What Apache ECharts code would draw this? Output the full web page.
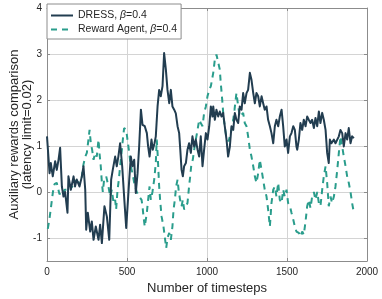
<!DOCTYPE html>
<html>
<head>
<meta charset="utf-8">
<script src="https://cdn.jsdelivr.net/npm/echarts@6/dist/echarts.min.js"></script>
<style>html,body{margin:0;padding:0;background:#fff}#c{width:382px;height:299px}</style>
</head>
<body>
<div id="c"></div>
<script>
const xTicks = [0, 500, 1000, 1500, 2000];
const yTicks = [-1, 0, 1, 2, 3, 4];

const dressSteps = [
  0,16,24,36,51,61,72,82,93,103,
  113,128,134,149,166,175,186,203,218,228,
  239,245,255,270,280,291,305,322,332,343,
  359,374,389,401,411,426,436,446,457,470,
  482,495,503,514,524,534,545,555,566,576,
  587,597,611,624,632,641,653,661,672,680,
  691,701,711,722,732,743,753,764,774,784,
  795,805,816,826,833,841,849,857,868,878,
  888,899,909,920,930,941,951,961,972,982,
  993,1003,1014,1024,1034,1039,1049,1059,1070,1080,
  1091,1101,1111,1122,1132,1143,1153,1164,1174,1184,
  1195,1205,1216,1226,1236,1247,1257,1268,1278,1289,
  1299,1309,1320,1330,1341,1351,1361,1372,1382,1393,
  1403,1414,1424,1434,1445,1455,1466,1476,1486,1497,
  1507,1518,1528,1539,1549,1559,1564,1574,1584,1595,
  1605,1616,1626,1636,1647,1657,1668,1678,1689,1699,
  1709,1720,1730,1741,1751,1761,1768,1778,1793,1803,
  1814,1824,1834,1845,1855,1866,1876,1886,1897,1907,
  1918
];
const dressValues = [
  1.21,0.41,0.63,0.34,0.67,0.48,0.70,0.96,0.12,-0.10,
  0.00,-0.45,0.34,0.05,0.34,0.12,0.27,0.12,0.34,0.56,
  0.05,-0.82,-0.45,-0.86,-0.64,-1.04,-0.75,-1.04,-0.71,-1.11,
  -0.31,-0.53,-1.04,0.27,0.48,0.77,0.56,0.77,1.06,0.56,
  -0.10,-0.78,-0.75,0.27,0.77,0.56,0.70,-0.02,0.41,0.99,
  1.79,1.46,1.43,1.28,0.99,0.77,1.14,0.92,1.06,1.21,
  1.86,2.22,2.08,2.30,3.02,2.66,2.22,1.93,2.22,1.86,
  1.79,1.71,1.43,1.28,0.92,0.48,0.34,0.56,0.63,0.92,
  1.06,0.85,1.21,0.99,1.14,0.92,0.77,1.21,0.56,0.92,
  1.28,1.14,1.43,1.86,1.64,1.86,1.57,1.79,1.64,1.75,
  1.64,1.72,1.43,1.14,0.77,0.99,1.43,1.35,1.72,1.57,
  1.50,1.86,1.79,2.15,1.93,2.15,2.22,2.59,2.44,2.15,
  1.93,2.15,2.08,1.86,2.08,1.93,1.79,1.86,1.57,1.43,
  1.28,1.06,1.43,1.57,1.43,1.64,1.79,1.43,0.99,1.14,
  0.85,1.21,1.28,1.43,1.35,0.99,0.92,1.14,1.50,1.35,
  1.57,1.43,1.64,1.57,1.50,1.57,1.39,1.61,1.43,1.75,
  1.50,1.72,1.57,1.35,0.85,0.63,1.14,1.06,1.14,1.06,
  1.10,1.21,1.35,1.28,0.99,1.28,1.14,1.39,1.06,1.21,
  1.17
];

const rewardSteps = [
  5,16,26,37,47,61,78,90,99,110,
  125,140,155,170,182,198,214,228,239,249,
  259,266,274,282,291,301,311,322,328,336,
  343,349,357,370,384,395,405,416,426,432,
  441,449,457,468,474,482,495,503,514,524,
  534,545,561,576,591,597,603,611,624,632,
  641,649,659,670,680,686,691,695,701,707,
  716,728,736,745,753,764,774,784,791,799,
  807,816,824,832,841,849,857,868,878,888,
  895,903,911,920,930,941,951,961,972,982,
  993,1003,1014,1024,1039,1049,1059,1070,1080,1086,
  1095,1103,1111,1120,1135,1153,1164,1172,1184,1195,
  1205,1226,1236,1247,1257,1268,1278,1289,1299,1309,
  1320,1330,1341,1351,1361,1372,1382,1393,1403,1414,
  1424,1434,1445,1455,1466,1476,1486,1497,1507,1518,
  1528,1539,1549,1559,1564,1574,1584,1595,1605,1616,
  1626,1636,1647,1657,1668,1678,1689,1699,1709,1720,
  1730,1741,1751,1761,1772,1782,1793,1803,1814,1824,
  1834,1845,1855,1866,1876,1886,1897,1907,1918
];
const rewardValues = [
  -0.80,-0.57,-0.30,0.00,0.17,0.20,-0.05,0.00,-0.05,0.05,
  0.05,0.15,0.10,0.20,0.25,0.20,0.25,0.60,0.77,0.85,
  1.14,1.35,1.06,0.92,0.70,0.85,0.77,1.14,0.85,0.56,
  0.20,0.00,0.27,0.34,0.12,-0.10,0.05,-0.24,-0.17,-0.38,
  0.05,0.27,0.56,0.92,1.14,1.39,1.35,1.14,0.85,0.56,
  0.41,0.20,0.00,-0.10,-0.17,-0.31,-0.53,-0.75,-0.45,-0.17,
  0.12,-0.17,0.00,0.27,0.63,1.14,0.85,0.56,0.12,-0.17,
  -0.53,-0.75,-0.97,-1.22,-1.00,-0.89,-1.04,-0.75,-0.38,-0.17,
  0.12,0.27,0.00,-0.17,-0.31,-0.17,-0.38,-0.31,-0.24,0.12,
  0.34,0.63,0.70,0.92,1.14,1.35,1.57,1.50,1.43,1.72,
  1.86,2.08,2.22,2.30,2.59,2.88,2.99,2.95,2.66,2.37,
  2.01,1.64,1.43,1.21,1.10,1.35,1.57,1.79,2.15,1.86,
  1.64,1.72,1.50,1.43,1.21,0.92,0.77,0.56,0.34,0.20,
  0.41,0.70,0.48,0.27,0.05,-0.10,-0.38,-0.75,-0.24,0.05,
  0.12,-0.10,0.20,-0.17,-0.24,0.05,-0.10,0.05,-0.24,-0.30,
  -0.45,-0.60,-0.75,-0.86,-0.82,-0.89,-0.97,-0.86,-0.93,-0.64,
  -0.31,-0.17,-0.35,-0.10,0.00,-0.17,0.00,-0.24,-0.31,0.05,
  0.34,0.56,0.20,-0.31,-0.10,-0.24,-0.10,0.12,0.48,0.85,
  1.21,0.99,0.77,0.56,0.34,0.20,0.00,-0.24,-0.45
];

const seriesNames = ['DRESS', 'Reward Agent'];
const betaLabel = '0.4';

const zip = (xs, ys) => xs.map((x, i) => [x, ys[i]]);
const FONT = 'Liberation Sans';
const axisGray = '#8c8c8c';
const gridGray = '#d4d4d4';
const txt = '#262626';

const chart = echarts.init(document.getElementById('c'), null, {renderer: 'canvas'});
chart.setOption({
  animation: false,
  backgroundColor: '#fff',
  textStyle: {fontFamily: FONT},
  grid: {left: 47, right: 15, top: 8, bottom: 38, containLabel: false, outerBoundsMode: 'none'},
  legend: {
    show: true,
    left: 47, top: 4, orient: 'vertical',
    backgroundColor: '#fff', borderColor: '#8c8c8c', borderWidth: 1, borderRadius: 0,
    padding: [6, 4, 4, 3], itemGap: 3, itemWidth: 22, itemHeight: 12,
    itemStyle: {opacity: 0},
    formatter: name => name + ', {i|β}=' + betaLabel,
    textStyle: {fontFamily: FONT, fontSize: 10.5, color: txt,
      rich: {i: {fontFamily: FONT, fontStyle: 'italic', fontSize: 10.5, color: txt}}},
    data: seriesNames
  },
  xAxis: [{
    type: 'value', min: 0, max: 2000, interval: 500,
    name: 'Number of timesteps', nameLocation: 'middle', nameGap: 21,
    nameTextStyle: {fontSize: 13, color: txt, fontFamily: FONT},
    axisLine: {show: true, onZero: false, lineStyle: {color: axisGray}},
    axisTick: {show: true, inside: true, length: 3, lineStyle: {color: axisGray}},
    axisLabel: {fontSize: 10, color: txt, margin: 6, formatter: v => String(v)},
    splitLine: {show: true, lineStyle: {color: gridGray, width: 1}}
  }, {
    type: 'value', min: 0, max: 2000, interval: 500, position: 'top',
    axisLine: {show: true, onZero: false, lineStyle: {color: axisGray}},
    axisTick: {show: true, inside: true, length: 3, lineStyle: {color: axisGray}},
    axisLabel: {show: false}, splitLine: {show: false}
  }],
  yAxis: [{
    type: 'value', min: -1.5, max: 4,
    name: 'Auxiliary rewards comparison\n(latency limit=0.02)',
    nameLocation: 'middle', nameGap: 13, nameRotate: 90, nameMoveOverlap: false,
    nameTextStyle: {fontSize: 13, color: txt, fontFamily: FONT, lineHeight: 13},
    axisLine: {show: true, onZero: false, lineStyle: {color: axisGray}},
    axisTick: {show: true, inside: true, length: 3, lineStyle: {color: axisGray}, customValues: yTicks},
    axisLabel: {fontSize: 10, color: txt, margin: 5, customValues: yTicks},
    splitLine: {show: true, lineStyle: {color: gridGray, width: 1}}
  }, {
    type: 'value', min: -1.5, max: 4, position: 'right',
    axisLine: {show: true, onZero: false, lineStyle: {color: axisGray}},
    axisTick: {show: true, inside: true, length: 3, lineStyle: {color: axisGray}, customValues: yTicks},
    axisLabel: {show: false, customValues: yTicks}, splitLine: {show: false}
  }],
  series: [{
    name: seriesNames[0], type: 'line', xAxisIndex: 0, yAxisIndex: 0,
    data: zip(dressSteps, dressValues), showSymbol: false, symbol: 'none',
    lineStyle: {color: '#223d50', width: 2, join: 'round'}, itemStyle: {color: '#223d50'}, z: 3
  }, {
    name: seriesNames[1], type: 'line', xAxisIndex: 0, yAxisIndex: 0,
    data: zip(rewardSteps, rewardValues), showSymbol: false, symbol: 'none',
    lineStyle: {color: '#2a9d8c', width: 2, type: [6, 5]}, itemStyle: {color: '#2a9d8c'}, z: 2
  }]
});
</script>
</body>
</html>
